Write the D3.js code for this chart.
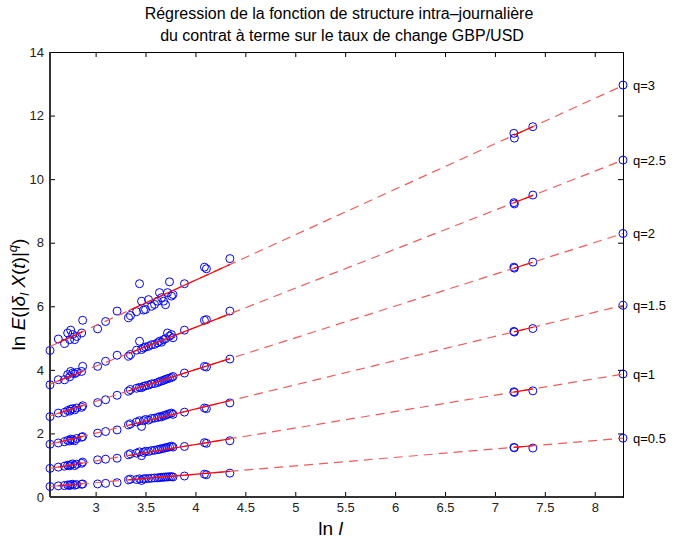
<!DOCTYPE html>
<html>
<head>
<meta charset="utf-8">
<script src="https://cdn.jsdelivr.net/npm/d3@7"></script>
<style>
  body { margin: 0; background: #fff; }
  text { font-family: "Liberation Sans", Arial, Helvetica, sans-serif; }
</style>
</head>
<body>
<svg id="chart" width="677" height="538"></svg>
<script>
// ln l values (same for every q)
const lnL = [2.543, 2.626, 2.69, 2.72, 2.74, 2.75, 2.77, 2.79, 2.81, 2.86, 2.87,
  3.02, 3.10, 3.215, 3.33, 3.35, 3.41, 3.44, 3.46, 3.48, 3.50, 3.53, 3.56, 3.59,
  3.62, 3.64, 3.66, 3.68, 3.70, 3.72, 3.74, 3.76, 3.775, 3.89, 4.09, 4.11, 4.345,
  7.19, 7.195, 7.38, 8.283];

const qLabels = ["q=0.5", "q=1", "q=1.5", "q=2", "q=2.5", "q=3"];

const q05 = [0.33, 0.35, 0.36, 0.38, 0.36, 0.39, 0.40, 0.37, 0.39, 0.40, 0.41,
  0.41, 0.43, 0.45, 0.54, 0.56, 0.55, 0.57, 0.52, 0.57, 0.58, 0.58, 0.59, 0.60,
  0.60, 0.61, 0.62, 0.62, 0.63, 0.63, 0.64, 0.64, 0.63, 0.66, 0.72, 0.70, 0.75,
  1.56, 1.55, 1.54, 1.85];
const q10 = [0.90, 0.94, 0.97, 1.00, 0.98, 1.02, 1.04, 0.99, 1.03, 1.06, 1.10,
  1.17, 1.19, 1.22, 1.33, 1.36, 1.38, 1.42, 1.30, 1.40, 1.44, 1.43, 1.46, 1.47,
  1.49, 1.50, 1.52, 1.53, 1.55, 1.56, 1.58, 1.60, 1.57, 1.59, 1.71, 1.69, 1.77,
  3.31, 3.29, 3.34, 3.87];
const q15 = [1.66, 1.70, 1.74, 1.78, 1.76, 1.82, 1.80, 1.77, 1.84, 1.88, 1.90,
  2.01, 2.06, 2.11, 2.27, 2.30, 2.36, 2.40, 2.22, 2.40, 2.44, 2.42, 2.47, 2.48,
  2.50, 2.53, 2.52, 2.56, 2.57, 2.60, 2.62, 2.64, 2.60, 2.67, 2.80, 2.78, 2.96,
  5.21, 5.19, 5.30, 6.03];
const q20 = [2.53, 2.64, 2.66, 2.72, 2.70, 2.76, 2.78, 2.74, 2.80, 2.82, 2.87,
  2.97, 3.06, 3.20, 3.33, 3.38, 3.42, 3.45, 3.44, 3.48, 3.50, 3.52, 3.56, 3.57,
  3.60, 3.63, 3.65, 3.67, 3.70, 3.72, 3.74, 3.76, 3.79, 3.90, 4.11, 4.09, 4.34,
  7.23, 7.20, 7.39, 8.29];
const q25 = [3.53, 3.69, 3.69, 3.85, 3.78, 3.95, 3.90, 3.88, 3.92, 3.95, 4.11,
  4.11, 4.27, 4.46, 4.43, 4.48, 4.62, 4.90, 4.64, 4.69, 4.72, 4.74, 4.79, 4.80,
  4.85, 4.90, 4.87, 4.95, 4.98, 5.16, 5.06, 5.11, 5.01, 5.25, 5.56, 5.58, 5.85,
  9.26, 9.22, 9.50, 10.60];
const q30 = [4.61, 4.97, 4.83, 5.16, 4.95, 5.25, 5.11, 4.95, 5.05, 5.16, 5.56,
  5.29, 5.52, 5.85, 5.64, 5.71, 5.83, 6.71, 6.16, 5.88, 5.90, 6.21, 6.00, 6.06,
  6.16, 6.43, 6.27, 6.16, 6.05, 6.43, 6.77, 6.32, 6.37, 6.71, 7.23, 7.18, 7.50,
  11.44, 11.29, 11.65, 12.96];

// regression lines y = a + b * ln l
const fitIntercept = [-0.344, -0.415, -0.276, 0.007, 0.427, 1.10];
const fitSlope = [0.265, 0.517, 0.761, 1.0, 1.228, 1.43];
// ranges where the fit is drawn solid
const solidRanges = [[2.626, 2.87], [3.33, 4.345], [7.19, 7.38]];

const xTicks = [3, 3.5, 4, 4.5, 5, 5.5, 6, 6.5, 7, 7.5, 8];
const yTicks = [0, 2, 4, 6, 8, 10, 12, 14];

const series = [q05, q10, q15, q20, q25, q30];

const margin = { top: 52, right: 54, bottom: 41, left: 50 };
const width = 677 - margin.left - margin.right;
const height = 538 - margin.top - margin.bottom;

const svg = d3.select("#chart");
const g = svg.append("g")
  .attr("transform", `translate(${margin.left},${margin.top})`);

const x = d3.scaleLinear().domain([2.543, 8.283]).range([0, width]);
const y = d3.scaleLinear().domain([0, 14]).range([height, 0]);

// axes (ticks pointing inward, boxed)
const fmt = d3.format("");
g.append("g").attr("class", "ax")
  .attr("transform", `translate(0,${height})`)
  .call(d3.axisBottom(x).tickValues(xTicks).tickFormat(fmt).tickSize(-5).tickPadding(6));
g.append("g").attr("class", "ax")
  .call(d3.axisTop(x).tickValues(xTicks).tickFormat("").tickSize(-5));
g.append("g").attr("class", "ax")
  .call(d3.axisLeft(y).tickValues(yTicks).tickFormat(fmt).tickSize(-5).tickPadding(6));
g.append("g").attr("class", "ax")
  .attr("transform", `translate(${width},0)`)
  .call(d3.axisRight(y).tickValues(yTicks).tickFormat("").tickSize(-5));

g.selectAll(".ax text").style("font-size", "13px").attr("fill", "#222");
g.selectAll(".ax .domain").attr("stroke", "#000").attr("stroke-width", 1);
g.selectAll(".ax .tick line").attr("stroke", "#000");
// heavier left/bottom edges
g.append("line").attr("x1", 0).attr("x2", 0).attr("y1", 0).attr("y2", height)
  .attr("stroke", "#333").attr("stroke-width", 2);
g.append("line").attr("x1", 0).attr("x2", width).attr("y1", height).attr("y2", height)
  .attr("stroke", "#333").attr("stroke-width", 2);

// points
series.forEach((vals) => {
  g.append("g").selectAll("circle")
    .data(vals)
    .enter()
    .append("circle")
    .attr("cx", (d, i) => x(lnL[i]))
    .attr("cy", (d) => y(d))
    .attr("r", 4)
    .attr("fill", "none")
    .attr("stroke", "#0000ff")
    .attr("stroke-width", 1);
});

// regression lines
const [x0, x1] = x.domain();
series.forEach((vals, k) => {
  const f = (v) => fitIntercept[k] + fitSlope[k] * v;
  g.append("line")
    .attr("x1", x(x0)).attr("y1", y(f(x0)))
    .attr("x2", x(x1)).attr("y2", y(f(x1)))
    .attr("stroke", "#f05a5a")
    .attr("stroke-width", 1.2)
    .attr("stroke-dasharray", "9,6");
  solidRanges.forEach((r) => {
    g.append("line")
      .attr("x1", x(r[0])).attr("y1", y(f(r[0])))
      .attr("x2", x(r[1])).attr("y2", y(f(r[1])))
      .attr("stroke", "#ff0000")
      .attr("stroke-width", 1.2);
  });
  g.append("text")
    .attr("x", width + 10)
    .attr("y", y(vals[vals.length - 1]))
    .attr("dy", "0.35em")
    .style("font-size", "13px")
    .text(qLabels[k]);
});

// title
const title = svg.append("text")
  .attr("text-anchor", "middle")
  .style("font-size", "16px");
title.append("tspan").attr("x", 339).attr("y", 19)
  .text("Régression de la fonction de structure intra–journalière");
title.append("tspan").attr("x", 342).attr("y", 41)
  .text("du contrat à terme sur le taux de change GBP/USD");

// x label
const xl = svg.append("text")
  .attr("x", margin.left + width / 2 - 6)
  .attr("y", 535)
  .attr("text-anchor", "middle")
  .style("font-size", "19px");
xl.append("tspan").text("ln ");
xl.append("tspan").style("font-style", "italic").text("l");

// y label
const yl = svg.append("text")
  .attr("transform", `translate(25,${margin.top + height / 2 + 20}) rotate(-90)`)
  .attr("text-anchor", "middle")
  .style("font-size", "19px");
yl.append("tspan").text("ln ");
yl.append("tspan").style("font-style", "italic").text("E");
yl.append("tspan").text("(|");
yl.append("tspan").style("font-style", "italic").text("δ");
yl.append("tspan").style("font-style", "italic").style("font-size", "13px").attr("dy", 4).text("l");
yl.append("tspan").style("font-style", "italic").attr("dy", -4).text(" X");
yl.append("tspan").text("(");
yl.append("tspan").style("font-style", "italic").text("t");
yl.append("tspan").text(")|");
yl.append("tspan").style("font-style", "italic").style("font-size", "13px").attr("dy", -8).text("q");
yl.append("tspan").attr("dy", 8).text(")");
</script>
</body>
</html>
